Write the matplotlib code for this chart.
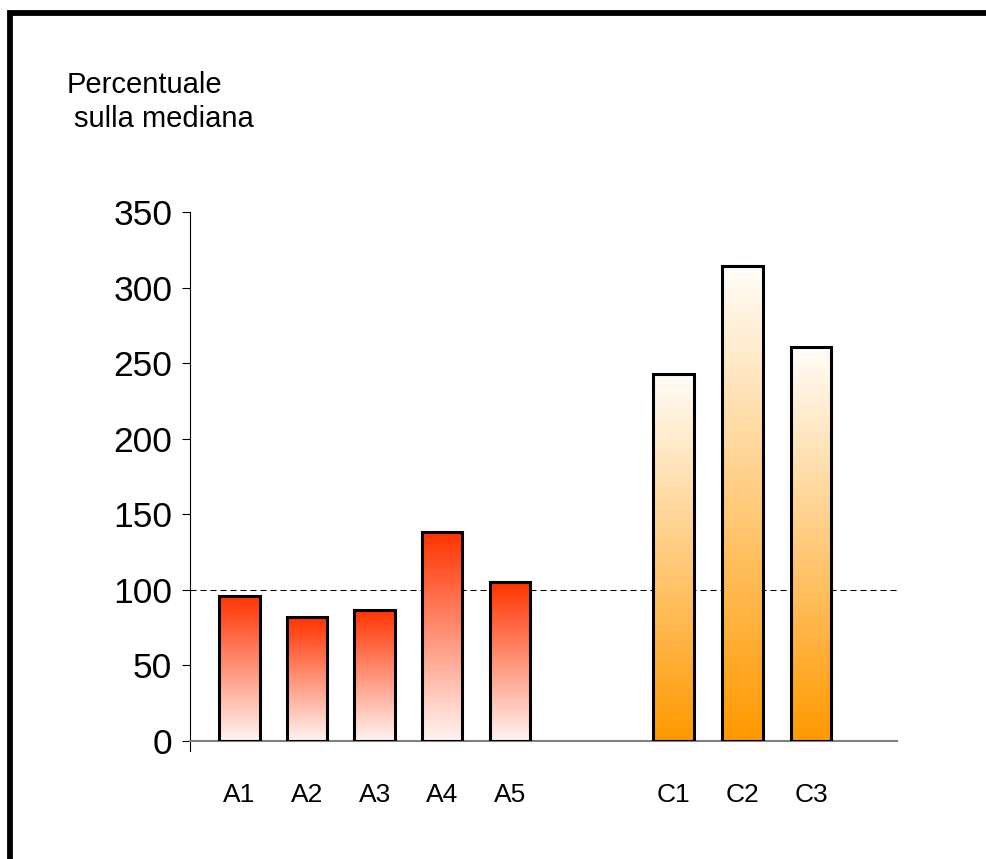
import numpy as np
import matplotlib
matplotlib.use("Agg")
import matplotlib.pyplot as plt
from matplotlib.patches import Rectangle
from matplotlib.colors import to_rgb

plt.rcParams['font.family'] = ['Liberation Sans', 'DejaVu Sans']

# data
labels_a = ['A1', 'A2', 'A3', 'A4', 'A5']
values_a = [96, 82, 87, 138, 105]
labels_c = ['C1', 'C2', 'C3']
values_c = [243, 314, 261]
median_ref = 100

# layout
x_a = np.arange(len(labels_a))
x_c = 6.42 + np.arange(len(labels_c)) * 1.02
bar_w = 0.6

fig = plt.figure(figsize=(9.87, 8.59), dpi=100)
ax = fig.add_axes([190 / 987, 1 - 741 / 859, 707 / 987, 529 / 859])

xmin, xmax = -0.732, 9.73
ymin, ymax = 0, 350


def gradient_bar(x, h, top, bottom):
    top = np.array(to_rgb(top))
    bottom = np.array(to_rgb(bottom))
    t = np.linspace(0, 1, 256)[:, None]
    img = (bottom * (1 - t) + top * t)[:, None, :]
    im = ax.imshow(img, extent=[x - bar_w / 2, x + bar_w / 2, 0, h],
                   origin='lower', aspect='auto', zorder=2,
                   interpolation='bilinear')
    rect = Rectangle((x - bar_w / 2, 0), bar_w, h, facecolor='none',
                     edgecolor='black', linewidth=2.2, zorder=3)
    ax.add_patch(rect)
    im.set_clip_path(rect)


for x, v in zip(x_a, values_a):
    gradient_bar(x, v, '#ff3300', '#fff4f2')
for x, v in zip(x_c, values_c):
    gradient_bar(x, v, '#fffdf9', '#ff9900')

ax.axhline(median_ref, color='black', lw=0.75, ls=(0, (5.8, 3.8)), zorder=1)

ax.set_xticks(np.concatenate([x_a, x_c]))
ax.set_xticklabels(labels_a + labels_c, fontsize=19)
ax.tick_params(axis='x', length=0, pad=30.5)
ax.set_yticks(np.arange(0, 351, 50))
ax.tick_params(axis='y', length=5.8, width=0.8, pad=7, labelsize=25.5)
ax.yaxis.get_major_ticks()[0].tick1line.set_color('#808080')

for s in ['top', 'right']:
    ax.spines[s].set_visible(False)
ax.spines['left'].set_linewidth(0.8)
ax.spines['bottom'].set_color('#808080')
ax.spines['bottom'].set_linewidth(1.5)
ax.plot([xmin, xmin], [-6.6, 0], color='black', lw=0.8, clip_on=False)
ax.set_xlim(xmin, xmax)
ax.set_ylim(ymin, ymax)

fig.text(67 / 987, 1 - 93 / 859, 'Percentuale', fontsize=21, va='baseline')
fig.text(74 / 987, 1 - 127 / 859, 'sulla mediana', fontsize=21, va='baseline')

# outer frame
fig.patches.append(Rectangle((10.5 / 987, -0.5), 2, 1.5 - 12.5 / 859,
                             transform=fig.transFigure, fill=False,
                             edgecolor='black', linewidth=4.2))

fig.savefig('out.png', dpi=100)
